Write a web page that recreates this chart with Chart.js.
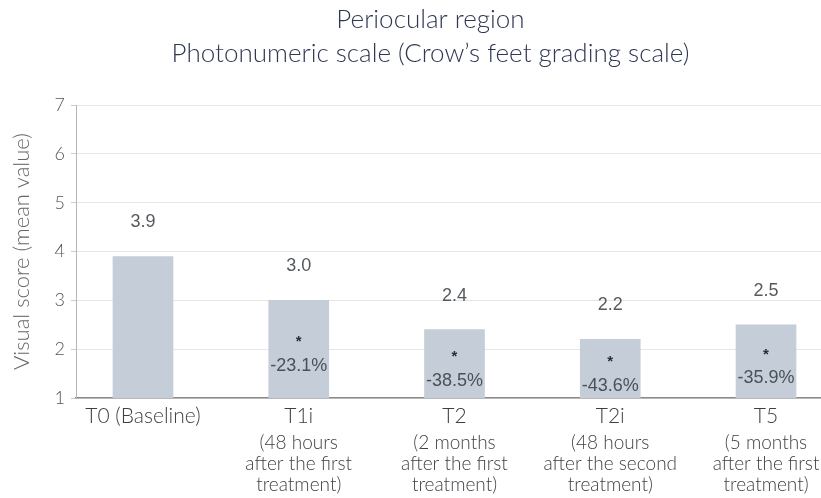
<!DOCTYPE html>
<html><head><meta charset="utf-8">
<script src="https://cdn.jsdelivr.net/npm/chart.js@4/dist/chart.umd.min.js"></script>
<style>html,body{margin:0;padding:0;background:#fff}#wrap{width:821px;height:498px}</style>
</head><body><div id="wrap"><canvas id="c"></canvas></div>
<script>
const titleLines = ['Periocular region', 'Photonumeric scale (Crow\u2019s feet grading scale)'];
const yAxisTitle = 'Visual score (mean value)';
const categories = ['T0 (Baseline)', 'T1i', 'T2', 'T2i', 'T5'];
const categoryNotes = [
  [''],
  ['(48 hours', 'after the first', 'treatment)'],
  ['(2 months', 'after the first', 'treatment)'],
  ['(48 hours', 'after the second', 'treatment)'],
  ['(5 months', 'after the first', 'treatment)']
];
const values = [3.9, 3.0, 2.4, 2.2, 2.5];
const valueLabels = ['3.9', '3.0', '2.4', '2.2', '2.5'];
const changeLabels = [null, '-23.1%', '-38.5%', '-43.6%', '-35.9%'];
const significance = [null, '*', '*', '*', '*'];
const yTicks = [1, 2, 3, 4, 5, 6, 7];

const FONT = 'Lato, "Open Sans", sans-serif';

const labelPlugin = {
  id: 'labels',
  afterLayout(chart) {
    if (chart.titleBlock) { chart.titleBlock.left += 40; }
  },
  afterDatasetsDraw(chart) {
    const ctx = chart.ctx;
    const meta = chart.getDatasetMeta(0);
    const bottom = chart.chartArea.bottom;
    ctx.save();
    ctx.textAlign = 'center';
    ctx.textBaseline = 'middle';
    meta.data.forEach((el, i) => {
      ctx.fillStyle = '#555a60';
      ctx.font = '18px "Liberation Sans", Arial, sans-serif';
      ctx.fillText(valueLabels[i], el.x, el.y - 34);
      const mid = (el.y + Math.min(el.base, bottom)) / 2;
      if (changeLabels[i]) {
        ctx.fillStyle = '#4b5058';
        ctx.fillText(changeLabels[i], el.x, mid + 17);
      }
      if (significance[i]) {
        ctx.fillStyle = '#2a2e35';
        ctx.font = 'bold 15px "Liberation Sans", Arial, sans-serif';
        ctx.fillText(significance[i], el.x, mid - 7);
      }
    });
    ctx.restore();
  }
};

new Chart(document.getElementById('c'), {
  type: 'bar',
  data: {
    datasets: [{
      data: values.map((v, i) => ({ x: i, y: v })),
      backgroundColor: '#c5cdd8',
      borderWidth: 0,
      barThickness: 60
    }]
  },
  plugins: [labelPlugin],
  options: {
    responsive: true,
    maintainAspectRatio: false,
    animation: false,
    layout: { padding: 0 },
    plugins: {
      legend: { display: false },
      tooltip: { enabled: false },
      title: {
        display: true,
        text: titleLines,
        color: '#2e3852',
        font: { family: FONT, size: 26, weight: 300, lineHeight: 1.33 },
        padding: { top: 2, bottom: 34 }
      }
    },
    scales: {
      x: {
        type: 'linear',
        offset: false,
        min: -0.43,
        max: 4.353,
        weight: 0,
        afterFit(scale) { scale.height = 34; },
        afterBuildTicks(scale) { scale.ticks = categories.map((c, i) => ({ value: i })); },
        grid: { display: false, drawTicks: false },
        border: { display: true, color: '#8a8a8a', width: 1.5 },
        ticks: {
          autoSkip: false,
          maxRotation: 0,
          padding: 8,
          color: '#3c3f44',
          font: { family: FONT, size: 21, weight: 300, lineHeight: 1.0 },
          callback(value) { return categories[Math.round(value)]; }
        }
      },
      x2: {
        type: 'linear',
        position: 'bottom',
        offset: false,
        min: -0.43,
        max: 4.353,
        weight: 1,
        afterFit(scale) { scale.height = 66; },
        afterBuildTicks(scale) { scale.ticks = categories.map((c, i) => ({ value: i })); },
        grid: { display: false, drawTicks: false },
        border: { display: false },
        ticks: {
          autoSkip: false,
          maxRotation: 0,
          padding: 0,
          color: '#3c3f44',
          font: { family: FONT, size: 19, weight: 300, lineHeight: 1.12 },
          callback(value) { return categoryNotes[Math.round(value)]; }
        }
      },
      y: {
        min: 1,
        max: 7,
        afterFit(scale) { scale.width = 76; },
        afterBuildTicks(scale) { scale.ticks = yTicks.map(v => ({ value: v })); },
        grid: { color: '#e6e6e6', tickLength: 5, tickColor: '#cccccc' },
        border: { display: true, color: '#b5b5b5' },
        ticks: {
          padding: 6,
          color: '#555555',
          font: { family: FONT, size: 18, weight: 300 }
        },
        title: {
          display: true,
          text: yAxisTitle,
          color: '#666666',
          font: { family: FONT, size: 22, weight: 300 },
          padding: { top: 9, bottom: 0 }
        }
      }
    }
  }
});
</script>
</body></html>
